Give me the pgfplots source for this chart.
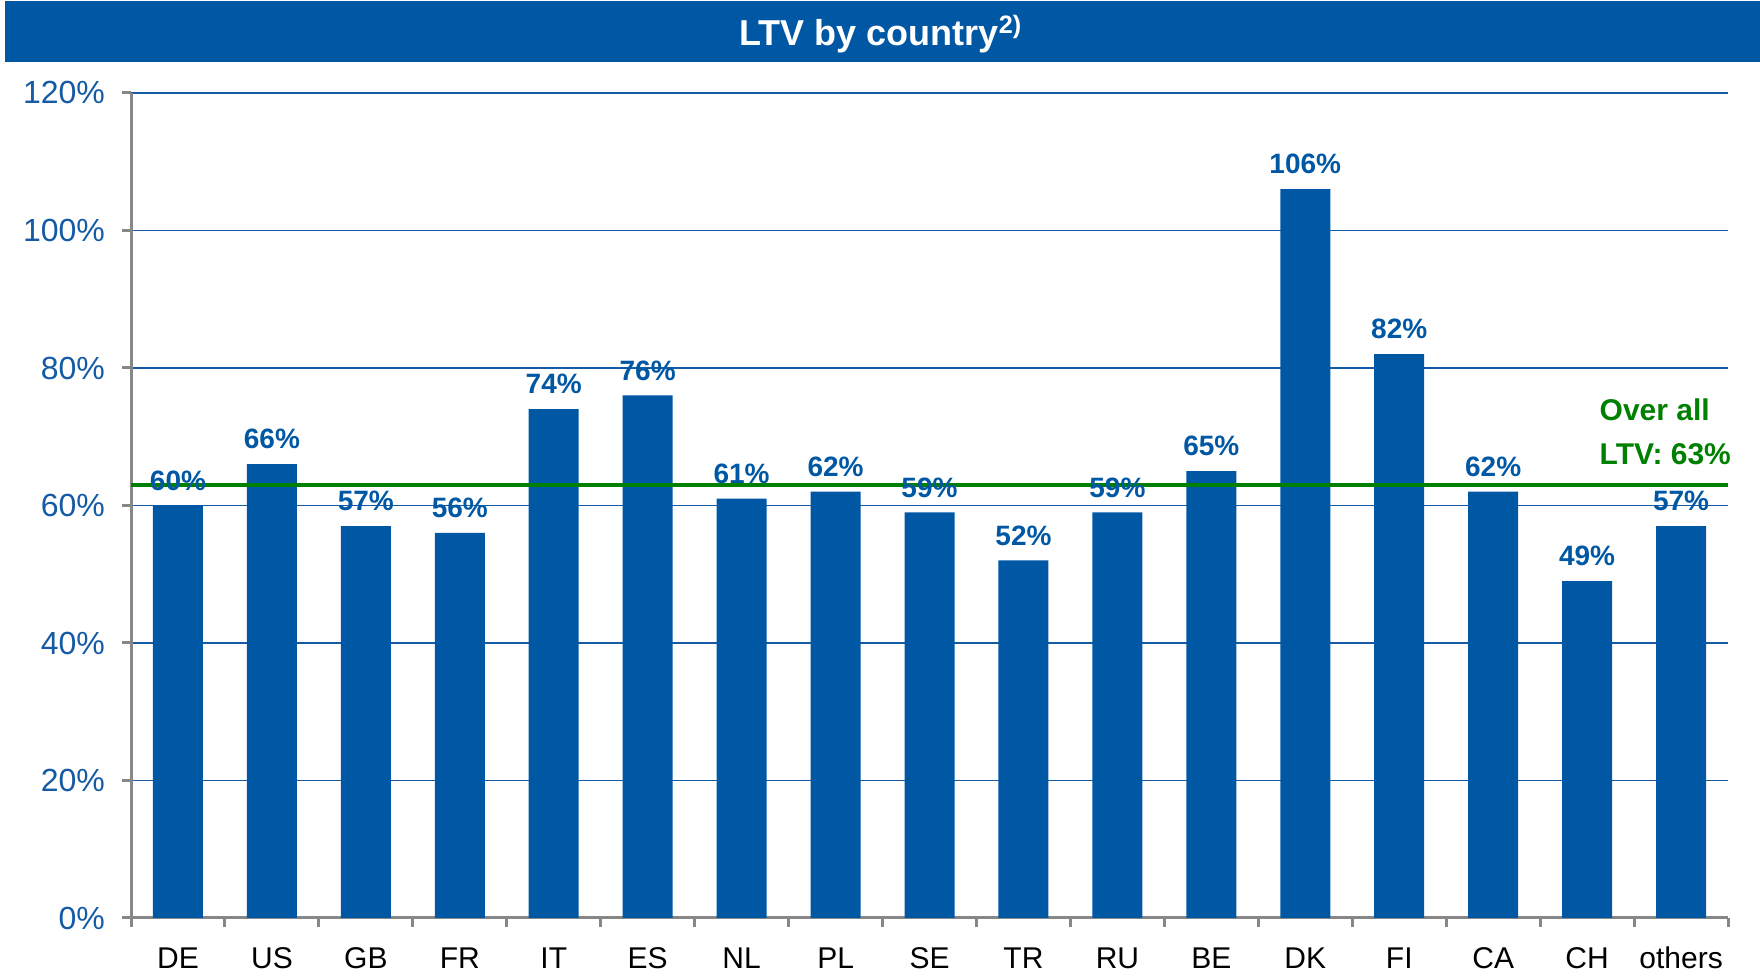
\documentclass[border=0pt]{standalone}
\usepackage{pgfplots}
\pgfplotsset{compat=1.18}
\usepackage{fontspec}
\setmainfont{Liberation Sans}
\definecolor{barblue}{RGB}{0,88,164}
\definecolor{tickblue}{RGB}{20,90,165}
\definecolor{ltvgreen}{RGB}{0,128,0}
\definecolor{axgray}{RGB}{135,135,135}
\begin{document}
\begin{tikzpicture}
\useasboundingbox (0,0) rectangle (880pt,489pt);
\fill[barblue] (2.5pt,458pt) rectangle (880pt,488.5pt);
\node[text=white,font=\fontsize{18}{20}\selectfont\bfseries] at (440.5pt,472pt) {LTV by country\textsuperscript{2)}};
\begin{axis}[
  at={(65.5pt,30pt)}, anchor=south west,
  scale only axis, width=798.5pt, height=412.5pt,
  /pgf/number format/assume math mode=true,
  clip=false,
  xmin=-0.5, xmax=16.5, ymin=0, ymax=120,
  axis x line*=bottom, axis y line*=left,
  axis line style={axgray, line width=1.5pt, -},
  xtick={-0.5,0.5,...,16.5},
  xticklabels={DE,US,GB,FR,IT,ES,NL,PL,SE,TR,RU,BE,DK,FI,CA,CH,others,{}},
  tick style={axgray, line width=1.5pt},
  major tick length=4.5pt,
  tick align=outside,
  ytick={0,20,...,120},
  yticklabels={0\%,20\%,40\%,60\%,80\%,100\%,120\%},
  ymajorgrids,
  major grid style={tickblue, line width=0.9pt},
  xticklabel style={font=\fontsize{15}{17}\selectfont, text=black, xshift=23.5pt, yshift=-6pt, text height=11pt, text depth=0pt},
  yticklabel style={font=\fontsize{16}{18}\selectfont, text=tickblue, xshift=-5pt},
  ybar, bar width=25pt,
  nodes near coords={\pgfmathprintnumber{\pgfplotspointmeta}\%},
  nodes near coords style={font=\fontsize{14}{16}\selectfont\bfseries, text=barblue, anchor=south, yshift=4pt},
]
\addplot[fill=barblue, draw=none] coordinates {
(0,60) (1,66) (2,57) (3,56) (4,74) (5,76) (6,61) (7,62) (8,59)
(9,52) (10,59) (11,65) (12,106) (13,82) (14,62) (15,49) (16,57)};
\addplot[sharp plot, ltvgreen, line width=2pt, nodes near coords={}, forget plot] coordinates {(-0.5,63) (16.5,63)};
\node[anchor=base west, text=ltvgreen, font=\fontsize{15}{17}\selectfont\bfseries, inner sep=0pt] at (axis cs:15.13,72.3) {Over all};
\node[anchor=base west, text=ltvgreen, font=\fontsize{15}{17}\selectfont\bfseries, inner sep=0pt] at (axis cs:15.13,65.9) {LTV: 63\%};
\end{axis}
\end{tikzpicture}
\end{document}
